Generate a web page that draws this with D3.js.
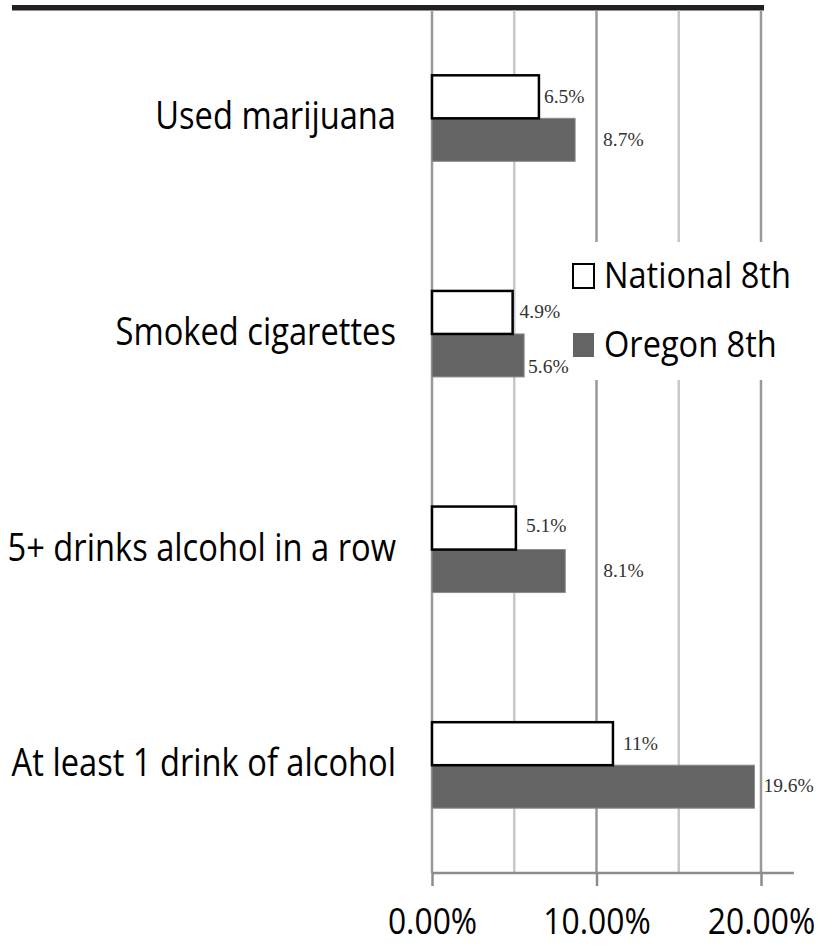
<!DOCTYPE html>
<html>
<head>
<meta charset="utf-8">
<script src="https://cdn.jsdelivr.net/npm/d3@7"></script>
<style>
  body { margin: 0; background: #fff; }
  .cat, .legend-text, .tick text { font-family: "Open Sans", sans-serif; fill: #000; }
  .val { font-family: "Liberation Serif", "Times New Roman", serif; font-size: 19.5px; fill: #333; }
</style>
</head>
<body>
<svg id="chart" width="830" height="946"></svg>
<script>
// Survey items, top to bottom
const categories = ["Used marijuana", "Smoked cigarettes",
                    "5+ drinks alcohol in a row", "At least 1 drink of alcohol"];
// percent values
const national8th = [6.5, 4.9, 5.1, 11];
const oregon8th   = [8.7, 5.6, 8.1, 19.6];
const nationalLabels = ["6.5%", "4.9%", "5.1%", "11%"];
const oregonLabels   = ["8.7%", "5.6%", "8.1%", "19.6%"];
const seriesNames = ["National 8th", "Oregon 8th"];
const tickValues = [0, 10, 20];
const gridValues = [0, 5, 10, 15, 20];

const svg = d3.select("#chart");

// scales
const x = d3.scaleLinear().domain([0, 20]).range([432, 761]);
const y = d3.scaleBand().domain(categories).range([10.5, 873]).padding(0);
const barH = 43;

// top rule (cut-off title border)
svg.append("rect")
  .attr("x", 12).attr("y", 5).attr("width", 752).attr("height", 5.5)
  .attr("fill", "#231f20");

// gridlines
svg.append("g").selectAll("line")
  .data(gridValues)
  .join("line")
  .attr("x1", d => x(d)).attr("x2", d => x(d))
  .attr("y1", 10.5).attr("y2", 873)
  .attr("stroke", d => d % 10 === 0 ? "#999" : "#c8c8c8")
  .attr("stroke-width", 2.5);

// bars
const rows = categories.map((c, i) => ({
  cat: c, nat: national8th[i], ore: oregon8th[i],
  natLabel: nationalLabels[i], oreLabel: oregonLabels[i]
}));

const centre = d => y(d.cat) + y.bandwidth() / 2;

svg.append("g").selectAll("rect")
  .data(rows)
  .join("rect")
  .attr("x", x(0))
  .attr("y", d => centre(d))
  .attr("width", d => x(d.ore) - x(0))
  .attr("height", barH)
  .attr("fill", "#646464")
  .attr("stroke", "#8a8a8a")
  .attr("stroke-width", 1);

svg.append("g").selectAll("rect")
  .data(rows)
  .join("rect")
  .attr("x", x(0))
  .attr("y", d => centre(d) - barH)
  .attr("width", d => x(d.nat) - x(0))
  .attr("height", barH)
  .attr("fill", "#fff")
  .attr("stroke", "#000")
  .attr("stroke-width", 2.5);

// legend (white box sits over the gridlines)
const legend = svg.append("g");
legend.append("rect")
  .attr("x", 566).attr("y", 242).attr("width", 236).attr("height", 138)
  .attr("fill", "#fff");

const legendFill = ["#fff", "#646464"];
const legendRows = legend.selectAll("g")
  .data(seriesNames)
  .join("g")
  .attr("transform", (d, i) => `translate(573,${264 + i * 69})`);

legendRows.append("rect")
  .attr("width", 21).attr("height", 24)
  .attr("fill", (d, i) => legendFill[i])
  .attr("stroke", (d, i) => i === 0 ? "#000" : "none")
  .attr("stroke-width", 2);

legendRows.append("text")
  .attr("class", "legend-text")
  .attr("transform", "translate(31,24) scale(0.88,1)")
  .style("font-size", "37px")
  .text(d => d);

// value labels (excel placed some of them a bit off the bar end)
const natNudge = [[5, 4], [7, 4], [10, 2], [10, 4]];
const oreNudge = [[28, 6], [4, 18], [38, 6], [9, 5]];

svg.append("g").selectAll("text")
  .data(rows)
  .join("text")
  .attr("class", "val")
  .attr("x", (d, i) => x(d.nat) + natNudge[i][0])
  .attr("y", (d, i) => centre(d) - barH / 2 + natNudge[i][1] + 2)
  .text(d => d.natLabel);

svg.append("g").selectAll("text")
  .data(rows)
  .join("text")
  .attr("class", "val")
  .attr("x", (d, i) => x(d.ore) + oreNudge[i][0])
  .attr("y", (d, i) => centre(d) + barH / 2 + oreNudge[i][1])
  .text(d => d.oreLabel);

// category labels
svg.append("g").selectAll("text")
  .data(categories)
  .join("text")
  .attr("class", "cat")
  .attr("transform", d => `translate(396,${y(d) + y.bandwidth() / 2 + 11}) scale(0.86,1)`)
  .attr("text-anchor", "end")
  .style("font-size", "38px")
  .text(d => d);

// x axis
const axis = svg.append("g")
  .attr("transform", "translate(0,873)")
  .call(d3.axisBottom(x)
    .tickValues(tickValues)
    .tickSize(13)
    .tickFormat(d => d.toFixed(2) + "%"));

axis.select(".domain").remove();
axis.selectAll(".tick line").attr("stroke", "#8c8c8c").attr("stroke-width", 2.5);
axis.selectAll(".tick text")
  .attr("y", 0).attr("dy", 0)
  .attr("transform", "translate(0,61) scale(0.86,1)")
  .style("font-size", "37px");

axis.append("line")
  .attr("x1", x(0)).attr("x2", x(22))
  .attr("y1", 0).attr("y2", 0)
  .attr("stroke", "#8c8c8c").attr("stroke-width", 2.5);
</script>
</body>
</html>
